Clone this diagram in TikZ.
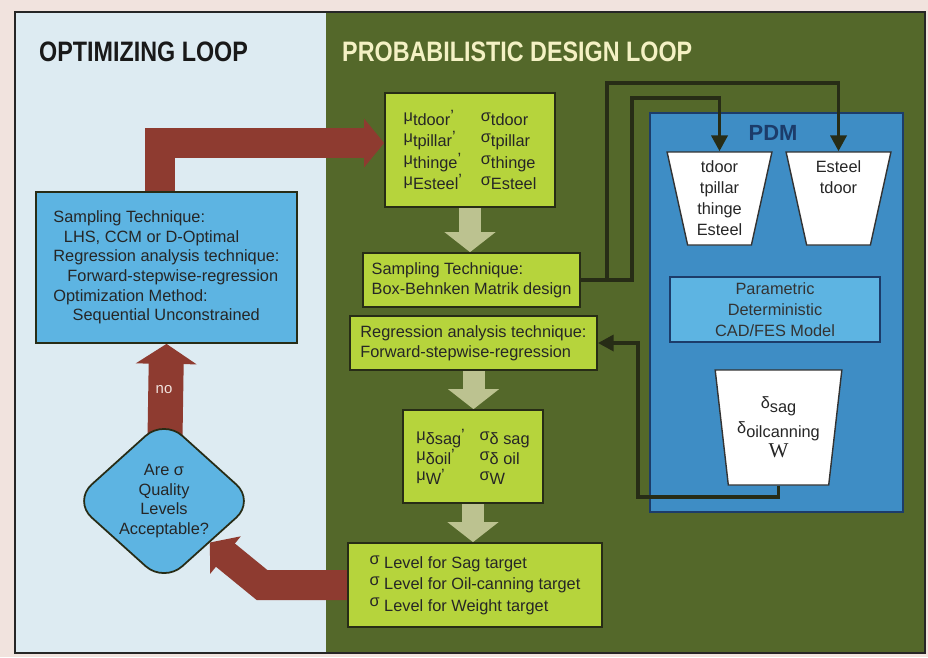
\documentclass[tikz,border=0pt]{standalone}
\usepackage{fontspec}
\setmainfont{Liberation Sans}
\newfontfamily\titlefont[FakeStretch=0.83]{Liberation Sans}
\newfontfamily\seriffont{Liberation Serif}
\usetikzlibrary{positioning, arrows.meta, backgrounds, fit, shapes.geometric}

\definecolor{pinkbg}{HTML}{F1E3DE}
\definecolor{paleblue}{HTML}{DDEBF2}
\definecolor{olive}{HTML}{54682A}
\definecolor{lime}{HTML}{B6D43C}
\definecolor{skyblue}{HTML}{5DB4E2}
\definecolor{pdmblue}{HTML}{3E8DC5}
\definecolor{brick}{HTML}{8E3B30}
\definecolor{sage}{HTML}{BCC290}
\definecolor{wirecol}{HTML}{272C16}
\definecolor{cream}{HTML}{F4F1C4}
\definecolor{navy}{HTML}{1C3C6A}

\newcommand{\lowsub}[1]{\raisebox{-0.45ex}{#1}}
\newcommand{\hisig}{\raisebox{0.5ex}{σ}}

\pgfdeclarelayer{bg}
\pgfdeclarelayer{mid}
\pgfsetlayers{bg,mid,main}

\begin{document}
\begin{tikzpicture}[x=0.02cm, y=-0.02cm]
\tikzstyle{block}=[draw=wirecol, line width=1pt, fill=lime, rectangle, inner sep=0pt, align=left, text=black!85, font=\fontsize{9.3}{11.4}\selectfont]
\tikzstyle{optbox}=[block, fill=skyblue, font=\fontsize{9.3}{11.2}\selectfont]
\tikzstyle{funnel}=[draw=black!80, line width=0.8pt, fill=white, trapezium, shape border rotate=180, trapezium stretches=true, trapezium angle=79, inner sep=0pt, align=center, text=black!85, font=\fontsize{9.3}{12}\selectfont]
\tikzstyle{fatarrow}=[brick, line width=0.6cm, line join=miter, -{Triangle[width=0.95cm,length=0.4cm]}]
\tikzstyle{downarrow}=[sage, line width=0.44cm, -{Triangle[width=1cm,length=0.4cm]}]
\tikzstyle{wire}=[wirecol, line width=2.2pt, -{Triangle[width=9pt,length=9pt]}]

\useasboundingbox (0,0) rectangle (928,657);

% optimizing loop
\node[optbox, minimum width=5.22cm, minimum height=3.02cm](opt) at (166.5,267.5){Sampling Technique:\\
\hspace*{6pt}LHS, CCM or D-Optimal\\
Regression analysis technique:\\
\hspace*{8pt}Forward-stepwise-regression\\
Optimization Method:\\
\hspace*{11pt}Sequential Unconstrained};
\node[diamond, draw=wirecol, line width=1pt, fill=skyblue, minimum width=3.64cm, minimum height=3.26cm, inner sep=0pt, rounded corners=14pt, align=center, text=black!85, font=\fontsize{9.3}{11.3}\selectfont](dia) at (164,501){Are σ\\Quality\\Levels\\Acceptable?};

% probabilistic design loop
\node[block, minimum width=3.4cm, minimum height=2.28cm, font=\fontsize{9.3}{12.2}\selectfont](mu1) at (470,150){\makebox[44pt][l]{μ\lowsub{tdoor}’}σ\lowsub{tdoor}\\
\makebox[44pt][l]{μ\lowsub{tpillar}’}σ\lowsub{tpillar}\\
\makebox[44pt][l]{μ\lowsub{thinge}’}σ\lowsub{thinge}\\
\makebox[44pt][l]{μ\lowsub{Esteel}’}σ\lowsub{Esteel}};
\node[block, minimum width=4.34cm, minimum height=1.08cm](samp) at (471.5,280){Sampling Technique:\\Box-Behnken Matrik design};
\node[block, minimum width=4.94cm, minimum height=1.08cm](regr) at (473.5,343){Regression analysis technique:\\Forward-stepwise-regression};
\node[block, minimum width=2.8cm, minimum height=1.86cm](mu2) at (473,456.5){\makebox[36pt][l]{μ\lowsub{δsag}’}σ\lowsub{δ sag}\\
\makebox[36pt][l]{μ\lowsub{δoil}’}σ\lowsub{δ oil}\\
\makebox[36pt][l]{μ\lowsub{W}’}σ\lowsub{W}};
\node[block, minimum width=5.08cm, minimum height=1.68cm, font=\fontsize{9.3}{12.2}\selectfont](lev) at (475,585){\hisig\ Level for Sag target\\
\hisig\ Level for Oil-canning target\\
\hisig\ Level for Weight target};

% PDM
\node[draw=navy, line width=1.2pt, fill=pdmblue, minimum width=5.06cm, minimum height=7.98cm, inner sep=0pt](pdm) at (776.5,312.5){};
\node[font=\fontsize{12.5}{14}\selectfont\bfseries, text=navy](pdmlabel) at (773,133){PDM};
\node[funnel, minimum width=2.1cm, minimum height=1.86cm](f1) at (719.5,198.5){tdoor\\tpillar\\thinge\\Esteel};
\node[funnel, minimum width=2.1cm, minimum height=1.86cm](f2) at (838.5,198.5){Esteel\\tdoor\\\phantom{thinge}\\\phantom{Esteel}};
\node[draw=navy, line width=1pt, fill=skyblue, minimum width=4.2cm, minimum height=1.3cm, inner sep=0pt, align=center, text=black!80, font=\fontsize{9.3}{11.8}\selectfont](cad) at (775,309.5){Parametric\\Deterministic\\CAD/FES Model};
\node[funnel, trapezium angle=80, minimum width=2.54cm, minimum height=2.3cm, font=\fontsize{9.3}{14}\selectfont](f3) at (778.5,427.5){δ\lowsub{sag}\\δ\lowsub{oilcanning}\\{\seriffont\fontsize{12}{14}\selectfont W}};

% titles
\node[anchor=west, font=\titlefont\bfseries\fontsize{16}{18}\selectfont, text=black!90](titleopt) at (33,52){OPTIMIZING LOOP};
\node[anchor=west, font=\titlefont\bfseries\fontsize{16}{18}\selectfont, text=cream](titlepdl) at (336,52){PROBABILISTIC DESIGN LOOP};

% wires
\coordinate (w1) at (632,98);
\coordinate (w2) at (607,83);
\coordinate (w3) at (638,497);
\draw[wire] (samp.east) -| (w2) -| (f2.north);
\draw[wire] (samp.east) -| (w1) -| (f1.north);
\draw[wire] (f3.south) |- (w3) |- (regr.east);

% fat arrows
\coordinate (bend1) at (160,143);
\coordinate (bend2) at (262,585);
\begin{pgfonlayer}{mid}
\draw[fatarrow] (bend1 |- opt.north) -- (bend1) -- (bend1 -| mu1.west);
\draw[fatarrow, line width=0.7cm, -{Triangle[width=1.2cm,length=0.4cm]}] (dia.center) -- (opt.south);
\draw[fatarrow] (lev.west) -- (bend2) -- (dia.south east);
\draw[downarrow] (mu1.south) -- (mu1.south |- samp.north);
\draw[downarrow] (regr.south) -- (regr.south |- mu2.north);
\draw[downarrow] (mu2.south) -- (mu2.south |- lev.north);
\end{pgfonlayer}
\node[text=pinkbg, font=\fontsize{8.5}{10}\selectfont](nolabel) at (164,390){no};

% panels
\begin{pgfonlayer}{bg}
\fill[pinkbg] (0,0) rectangle (928,657);
\fill[paleblue] (15,12) rectangle (326,653);
\fill[olive] (326,12) rectangle (925,653);
\draw[black!85, line width=1.2pt] (15,12) rectangle (925,653);
\end{pgfonlayer}

\end{tikzpicture}
\end{document}
